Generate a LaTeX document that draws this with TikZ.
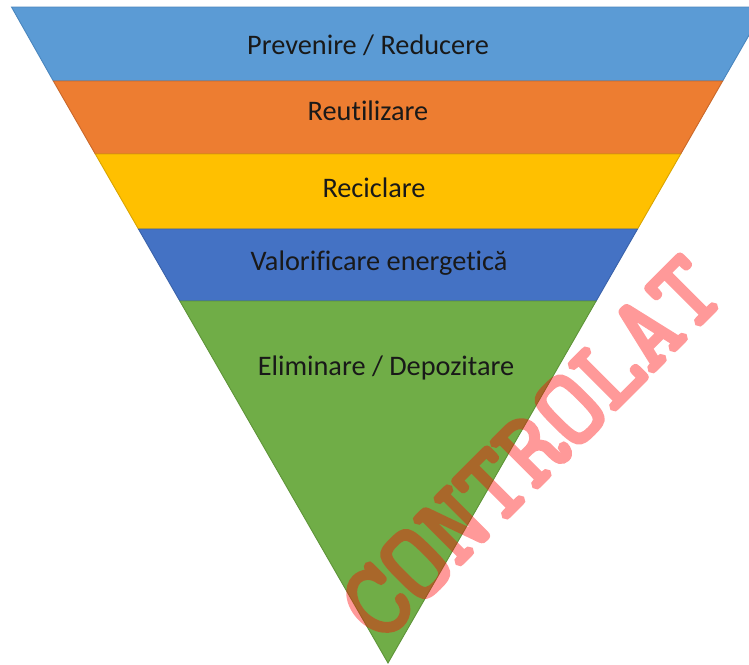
\documentclass[tikz,border=0pt]{standalone}
\usepackage{fontspec}
\setmainfont{Carlito}[Ligatures={TeX,NoCommon}]
\newfontfamily\wmfont{Latin Modern Mono}[FakeBold=4]
\definecolor{bandA}{HTML}{5B9BD5}
\definecolor{bandB}{HTML}{ED7D31}
\definecolor{bandC}{HTML}{FFC000}
\definecolor{bandD}{HTML}{4472C4}
\definecolor{bandE}{HTML}{70AD47}
\definecolor{edgeA}{HTML}{4A86BE}
\definecolor{edgeB}{HTML}{C9682A}
\definecolor{edgeC}{HTML}{D9A400}
\definecolor{edgeD}{HTML}{3A62AA}
\definecolor{edgeE}{HTML}{5E9438}
\tikzset{
  band/.style={line width=0.9pt, line join=miter},
  lbl/.style={anchor=base, text=black!90, font=\fontsize{28.3}{32}\selectfont, inner sep=0pt},
  wm/.style={text=red, font=\wmfont\fontsize{106}{110}\selectfont, rotate=45, inner sep=0pt}
}
\begin{document}
\begin{tikzpicture}[x=1pt,y=-1pt]
\useasboundingbox (0,0) rectangle (749,664);
\begin{scope}
\clip (0,0) rectangle (749,664);
\path[band, fill=bandA, draw=edgeA] (11.5,7) -- (765.2,7) -- (722.65,81) -- (53.35,81) -- cycle;
\path[band, fill=bandB, draw=edgeB] (53.35,81) -- (722.65,81) -- (680.7,154) -- (95.3,154) -- cycle;
\path[band, fill=bandC, draw=edgeC] (95.3,154) -- (680.7,154) -- (637.55,229) -- (138.45,229) -- cycle;
\path[band, fill=bandD, draw=edgeD] (138.45,229) -- (637.55,229) -- (596.15,301) -- (179.85,301) -- cycle;
\path[band, fill=bandE, draw=edgeE] (179.85,301) -- (596.15,301) -- (388,663) -- cycle;
\end{scope}
\node[lbl] (prev) at (368,54) {Prevenire / Reducere};
\node[lbl] (reut) at (368,120) {Reutilizare};
\node[lbl] (recic) at (374,197) {Reciclare};
\node[lbl] (valor) at (379,270) {Valorificare energetică};
\node[lbl] (elim) at (386,375) {Eliminare / Depozitare};
\begin{scope}[transparency group, opacity=0.4]
\node[wm] (mark) at (531,448) {CONTROLAT};
\end{scope}
\end{tikzpicture}
\end{document}
